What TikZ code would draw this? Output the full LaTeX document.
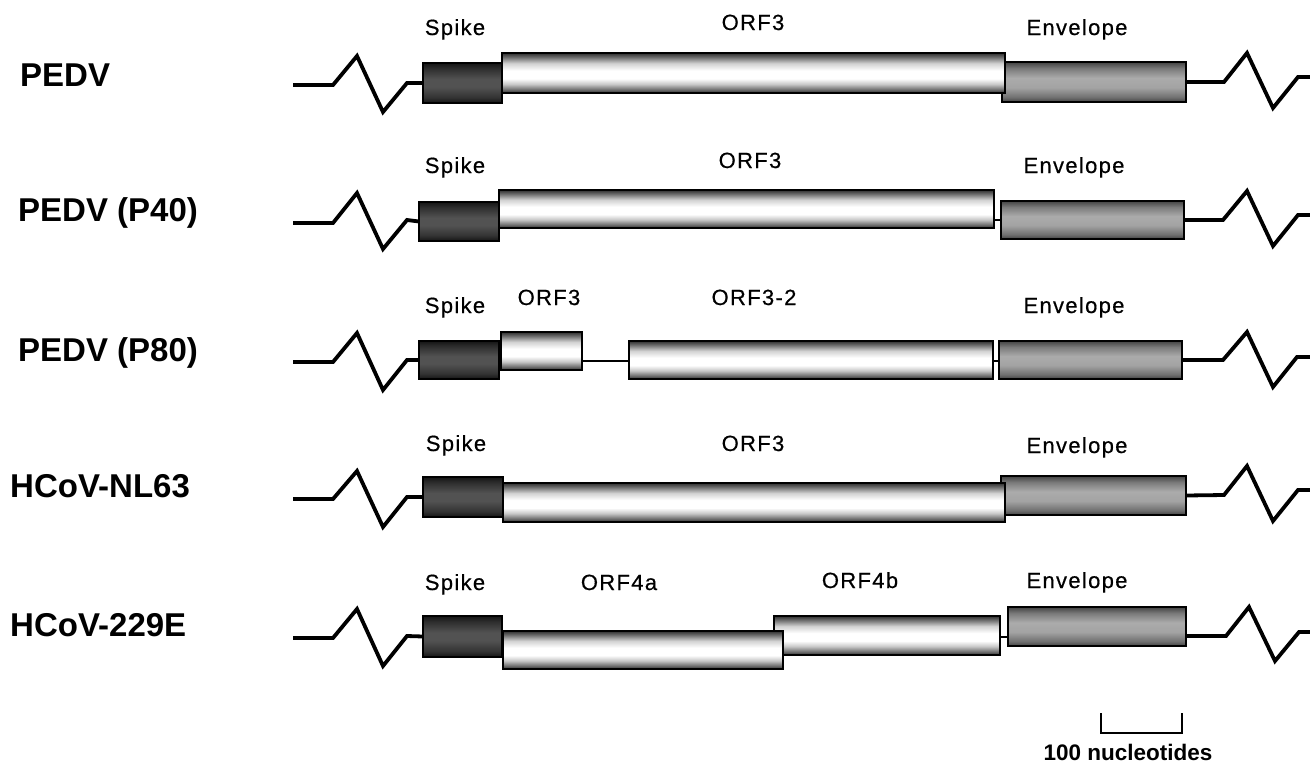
\documentclass[tikz,border=0pt]{standalone}
\usepackage{fontspec}
\setmainfont{Liberation Sans}
\newfontfamily\genefont[LetterSpace=6,FakeBold=0.5]{Liberation Sans}
\newfontfamily\rowfont{Liberation Sans}
\pgfdeclareverticalshading{whitecyl}{100bp}{color(0bp)=(black!82); color(25bp)=(black!82); color(29bp)=(black!58); color(36bp)=(black!22); color(43bp)=(white); color(53bp)=(white); color(62bp)=(black!18); color(70bp)=(black!58); color(75bp)=(black!82); color(100bp)=(black!82)}
\pgfdeclareverticalshading{darkcyl}{100bp}{color(0bp)=(black!92); color(25bp)=(black!92); color(32bp)=(black!80); color(45bp)=(black!68); color(55bp)=(black!68); color(68bp)=(black!82); color(75bp)=(black!92); color(100bp)=(black!92)}
\pgfdeclareverticalshading{greycyl}{100bp}{color(0bp)=(black!74); color(25bp)=(black!74); color(31bp)=(black!56); color(43bp)=(black!36); color(55bp)=(black!33); color(67bp)=(black!52); color(75bp)=(black!74); color(100bp)=(black!74)}
\newcommand{\genebox}[6]{\node[genebase,#1,minimum width={#5pt-#3pt},minimum height={#6pt-#4pt}] (#2) at ({(#3+#5)/2},{(#4+#6)/2}) {};}
\tikzset{
  genebase/.style={draw=black,line width=1.5pt,inner sep=0pt,outer sep=0pt,rectangle},
  spikebox/.style={shading=darkcyl},
  orfbox/.style={shading=whitecyl},
  envbox/.style={shading=greycyl},
  squig/.style={line width=3.8pt,line join=miter},
  thinlink/.style={line width=1.2pt},
  genelab/.style={font=\genefont\fontsize{22}{26}\selectfont,anchor=base,inner sep=0pt},
  rowlab/.style={font=\rowfont\bfseries\fontsize{33}{38}\selectfont,anchor=base west,inner sep=0pt},
  scalebar/.style={line width=1.6pt},
  scalelab/.style={font=\rowfont\bfseries\fontsize{22.5}{26}\selectfont,anchor=base,inner sep=0pt}
}
\begin{document}
\begin{tikzpicture}[x=1pt,y=-1pt]
\useasboundingbox[fill=white] (0,0) rectangle (1310,763);

% ---------------- Row 1: PEDV ----------------
\node[rowlab] (r1) at (20,86) {PEDV};
\genebox{spikebox}{s1}{423}{63}{502}{103}
\genebox{envbox}{e1}{1002}{62}{1186}{102}
\genebox{orfbox}{o1}{502}{53}{1005}{93}
\draw[squig] (293,85) -- (333,85) -- (357,56) -- (383,112) -- (407,83) -- (s1.west);
\draw[squig] (e1.east) -- (1224,82) -- (1247,53) -- (1273,108) -- (1298,77) -- (1310,77);
\node[genelab] (l1a) at (455,35) {Spike};
\node[genelab] (l1b) at (753,30) {ORF3};
\node[genelab] (l1c) at (1077,35) {Envelope};

% ---------------- Row 2: PEDV (P40) ----------------
\node[rowlab] (r2) at (18,221) {PEDV (P40)};
\genebox{spikebox}{s2}{419}{202}{499}{241}
\genebox{orfbox}{o2}{499}{190}{994}{228}
\genebox{envbox}{e2}{1001}{201}{1184}{239}
\draw[thinlink] (o2.east |- 0,220) -- (e2.west |- 0,220);
\draw[squig] (293,223) -- (333,223) -- (357,193) -- (383,249) -- (407,220) -- (s2.west);
\draw[squig] (e2.east) -- (1223,220) -- (1247,191) -- (1273,246) -- (1298,215) -- (1310,215);
\node[genelab] (l2a) at (455,173) {Spike};
\node[genelab] (l2b) at (750,168) {ORF3};
\node[genelab] (l2c) at (1074,173) {Envelope};

% ---------------- Row 3: PEDV (P80) ----------------
\node[rowlab] (r3) at (18,361) {PEDV (P80)};
\genebox{spikebox}{s3}{419}{341}{499}{379}
\genebox{orfbox}{o3a}{501}{332}{582}{370}
\genebox{orfbox}{o3b}{629}{341}{993}{379}
\genebox{envbox}{e3}{999}{341}{1182}{379}
\draw[thinlink] (s3.east |- 0,361) -- (o3a.west |- 0,361);
\draw[thinlink] (o3a.east |- 0,361) -- (o3b.west |- 0,361);
\draw[thinlink] (o3b.east |- 0,361) -- (e3.west |- 0,361);
\draw[squig] (293,362) -- (333,362) -- (357,333) -- (383,390) -- (407,360) -- (s3.west);
\draw[squig] (e3.east) -- (1223,360) -- (1247,332) -- (1273,387) -- (1297,357) -- (1310,357);
\node[genelab] (l3a) at (455,313) {Spike};
\node[genelab] (l3b) at (549,305) {ORF3};
\node[genelab] (l3c) at (754,305) {ORF3-2};
\node[genelab] (l3d) at (1074,313) {Envelope};

% ---------------- Row 4: HCoV-NL63 ----------------
\node[rowlab] (r4) at (10,497) {HCoV-NL63};
\genebox{spikebox}{s4}{423}{477}{503}{517}
\genebox{envbox}{e4}{1001}{476}{1186}{515}
\genebox{orfbox}{o4}{503}{483}{1005}{522}
\draw[squig] (293,499) -- (333,499) -- (357,471) -- (383,527) -- (407,497) -- (s4.west);
\draw[squig] (e4.east) -- (1224,495) -- (1247,466) -- (1273,521) -- (1298,490) -- (1310,490);
\node[genelab] (l4a) at (456,451) {Spike};
\node[genelab] (l4b) at (753,451) {ORF3};
\node[genelab] (l4c) at (1077,453) {Envelope};

% ---------------- Row 5: HCoV-229E ----------------
\node[rowlab] (r5) at (10,636) {HCoV-229E};
\genebox{spikebox}{s5}{423}{616}{502}{657}
\genebox{orfbox}{o5b}{774}{616}{1000}{655}
\genebox{orfbox}{o5a}{503}{631}{783}{669}
\genebox{envbox}{e5}{1008}{607}{1186}{646}
\draw[thinlink] (o5b.east |- 0,637) -- (e5.west |- 0,637);
\draw[squig] (293,638) -- (333,638) -- (357,609) -- (383,666) -- (407,636) -- (s5.west);
\draw[squig] (e5.east |- 0,636) -- (1226,636) -- (1249,607) -- (1275,661) -- (1299,632) -- (1310,632);
\node[genelab] (l5a) at (455,590) {Spike};
\node[genelab] (l5b) at (619,590) {ORF4a};
\node[genelab] (l5c) at (860,588) {ORF4b};
\node[genelab] (l5d) at (1077,588) {Envelope};

% ---------------- Scale bar ----------------
\draw[scalebar] (1101,713) -- (1101,733) -- (1182,733) -- (1182,713);
\node[scalelab] (sc) at (1128,760) {100 nucleotides};
\end{tikzpicture}
\end{document}
